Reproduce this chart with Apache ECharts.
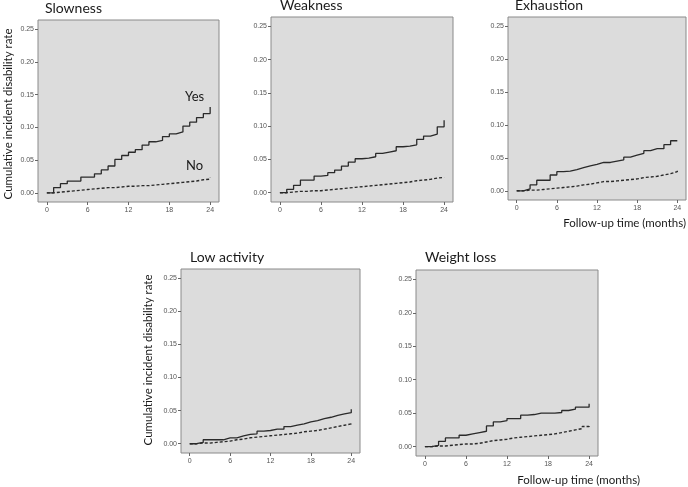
<!DOCTYPE html>
<html>
<head>
<meta charset="utf-8">
<script src="https://cdn.jsdelivr.net/npm/echarts@6/dist/echarts.min.js"></script>
<style>
  html, body { margin: 0; padding: 0; background: #fff; }
  #chart { width: 688px; height: 487px; }
</style>
</head>
<body>
<div id="chart"></div>
<script>
// follow-up months, one step per month
var months = [0, 1, 2, 3, 4, 5, 6, 7, 8, 9, 10, 11, 12, 13, 14, 15, 16, 17, 18, 19, 20, 21, 22, 23, 24]
var xTicks = [0, 6, 12, 18, 24]
var yTicks = [0, 0.05, 0.10, 0.15, 0.20, 0.25]
var panelTitles = ['Slowness', 'Weakness', 'Exhaustion', 'Low activity', 'Weight loss']

// cumulative incident disability rate, frailty component present (Yes, solid)
var slownessYes = [0, 0.008, 0.014, 0.018, 0.018, 0.024, 0.024, 0.029, 0.035, 0.041, 0.051, 0.057, 0.062, 0.066, 0.073, 0.078, 0.080, 0.086, 0.090, 0.093, 0.102, 0.108, 0.115, 0.121, 0.131]
var weaknessYes = [0, 0.005, 0.011, 0.019, 0.019, 0.025, 0.026, 0.030, 0.034, 0.040, 0.046, 0.051, 0.052, 0.054, 0.059, 0.061, 0.063, 0.069, 0.070, 0.072, 0.080, 0.085, 0.088, 0.099, 0.109]
var exhaustionYes = [0, 0.003, 0.009, 0.016, 0.016, 0.024, 0.029, 0.030, 0.032, 0.035, 0.038, 0.040, 0.043, 0.043, 0.045, 0.047, 0.051, 0.054, 0.057, 0.061, 0.064, 0.064, 0.070, 0.076, 0.077]
var lowActivityYes = [0, 0.002, 0.006, 0.006, 0.006, 0.009, 0.009, 0.012, 0.014, 0.015, 0.019, 0.020, 0.022, 0.022, 0.026, 0.028, 0.030, 0.033, 0.035, 0.038, 0.040, 0.043, 0.045, 0.047, 0.052]
var weightLossYes = [0, 0.002, 0.008, 0.013, 0.013, 0.017, 0.019, 0.021, 0.023, 0.031, 0.037, 0.039, 0.042, 0.042, 0.047, 0.048, 0.050, 0.050, 0.050, 0.051, 0.054, 0.056, 0.059, 0.059, 0.064]

// component absent (No, dashed)
var slownessNo = [0, 0.001, 0.002, 0.003, 0.004, 0.005, 0.006, 0.007, 0.008, 0.008, 0.009, 0.010, 0.010, 0.011, 0.011, 0.012, 0.013, 0.014, 0.015, 0.016, 0.017, 0.018, 0.020, 0.021, 0.023]
var weaknessNo = [0, 0.001, 0.002, 0.002, 0.003, 0.003, 0.004, 0.005, 0.006, 0.007, 0.008, 0.009, 0.010, 0.011, 0.012, 0.013, 0.014, 0.015, 0.016, 0.018, 0.019, 0.020, 0.022, 0.023, 0.024]
var exhaustionNo = [0, 0.001, 0.001, 0.002, 0.003, 0.004, 0.005, 0.006, 0.007, 0.009, 0.010, 0.012, 0.014, 0.014, 0.015, 0.016, 0.017, 0.018, 0.020, 0.021, 0.022, 0.024, 0.026, 0.029, 0.032]
var lowActivityNo = [0, 0.001, 0.001, 0.002, 0.003, 0.004, 0.006, 0.007, 0.009, 0.010, 0.011, 0.012, 0.013, 0.014, 0.015, 0.016, 0.018, 0.019, 0.020, 0.022, 0.024, 0.026, 0.028, 0.030, 0.032]
var weightLossNo = [0, 0.001, 0.001, 0.002, 0.003, 0.004, 0.004, 0.005, 0.007, 0.009, 0.010, 0.011, 0.013, 0.014, 0.015, 0.016, 0.017, 0.018, 0.019, 0.021, 0.023, 0.025, 0.027, 0.030, 0.033]

var yesSeries = [slownessYes, weaknessYes, exhaustionYes, lowActivityYes, weightLossYes]
var noSeries = [slownessNo, weaknessNo, exhaustionNo, lowActivityNo, weightLossNo]

// plot boxes (px) of the five panels
var boxes = [
  {left: 38, top: 20, width: 181, height: 182},
  {left: 271, top: 17, width: 182, height: 185},
  {left: 508, top: 17, width: 178, height: 183},
  {left: 181, top: 269, width: 179, height: 184},
  {left: 416, top: 270, width: 182, height: 186}
]

var textFont = 'Lato'
var grids = [], xAxes = [], yAxes = [], series = [], graphics = []

boxes.forEach(function (b, i) {
  grids.push({
    left: b.left, top: b.top, width: b.width, height: b.height,
    show: true, backgroundColor: '#dcdcdc', borderColor: '#8a8a8a', borderWidth: 1
  })
  xAxes.push({
    type: 'value', gridIndex: i, min: -1.3, max: 25.3,
    axisLine: {show: false, onZero: false},
    splitLine: {show: false},
    axisTick: {show: true, customValues: xTicks, length: 3, lineStyle: {color: '#666'}},
    axisLabel: {customValues: xTicks, fontSize: 7, color: '#555', fontFamily: 'Liberation Sans', margin: 5}
  })
  yAxes.push({
    type: 'value', gridIndex: i, min: -0.014, max: 0.264,
    axisLine: {show: false, onZero: false},
    splitLine: {show: false},
    axisTick: {show: true, customValues: yTicks, length: 3, lineStyle: {color: '#666'}},
    axisLabel: {
      customValues: yTicks, fontSize: 7, color: '#555', fontFamily: 'Liberation Sans', margin: 4,
      formatter: function (v) { return v.toFixed(2) }
    }
  })
  series.push({
    type: 'line', step: 'end', xAxisIndex: i, yAxisIndex: i, symbol: 'none',
    lineStyle: {color: '#2a2a2a', width: 1.3},
    data: months.map(function (m, k) { return [m, yesSeries[i][k]] })
  })
  series.push({
    type: 'line', step: 'end', xAxisIndex: i, yAxisIndex: i, symbol: 'none',
    lineStyle: {color: '#2a2a2a', width: 1.4, type: [3, 2]},
    data: months.map(function (m, k) { return [m, noSeries[i][k]] })
  })
})

var titlePos = [[45, 1], [280, -2], [515, -2], [190, 250], [425, 250]]
titlePos.forEach(function (p, i) {
  graphics.push({type: 'text', left: p[0], top: p[1],
    style: {text: panelTitles[i], font: '14px ' + textFont, fill: '#1a1a1a'}})
})

// y-axis titles
var yTitleCenters = [[8, 114], [148, 360]]
yTitleCenters.forEach(function (c) {
  graphics.push({type: 'text', x: c[0], y: c[1], rotation: Math.PI / 2,
    style: {text: 'Cumulative incident disability rate', font: '11.5px ' + textFont, fill: '#1a1a1a',
      align: 'center', verticalAlign: 'middle'}})
})

// x-axis titles
graphics.push({type: 'text', x: 686, y: 223,
  style: {text: 'Follow-up time (months)', font: '11.5px ' + textFont, fill: '#1a1a1a', align: 'right', verticalAlign: 'middle'}})
graphics.push({type: 'text', x: 640, y: 480,
  style: {text: 'Follow-up time (months)', font: '11.5px ' + textFont, fill: '#1a1a1a', align: 'right', verticalAlign: 'middle'}})

// group labels in the first panel
graphics.push({type: 'text', x: 185, y: 97,
  style: {text: 'Yes', font: '13px ' + textFont, fill: '#1a1a1a', verticalAlign: 'middle'}})
graphics.push({type: 'text', x: 186, y: 166,
  style: {text: 'No', font: '13px ' + textFont, fill: '#1a1a1a', verticalAlign: 'middle'}})

var chart = echarts.init(document.getElementById('chart'), null, {renderer: 'canvas'})
chart.setOption({
  animation: false,
  backgroundColor: '#ffffff',
  grid: grids,
  xAxis: xAxes,
  yAxis: yAxes,
  series: series,
  graphic: graphics
})
</script>
</body>
</html>
